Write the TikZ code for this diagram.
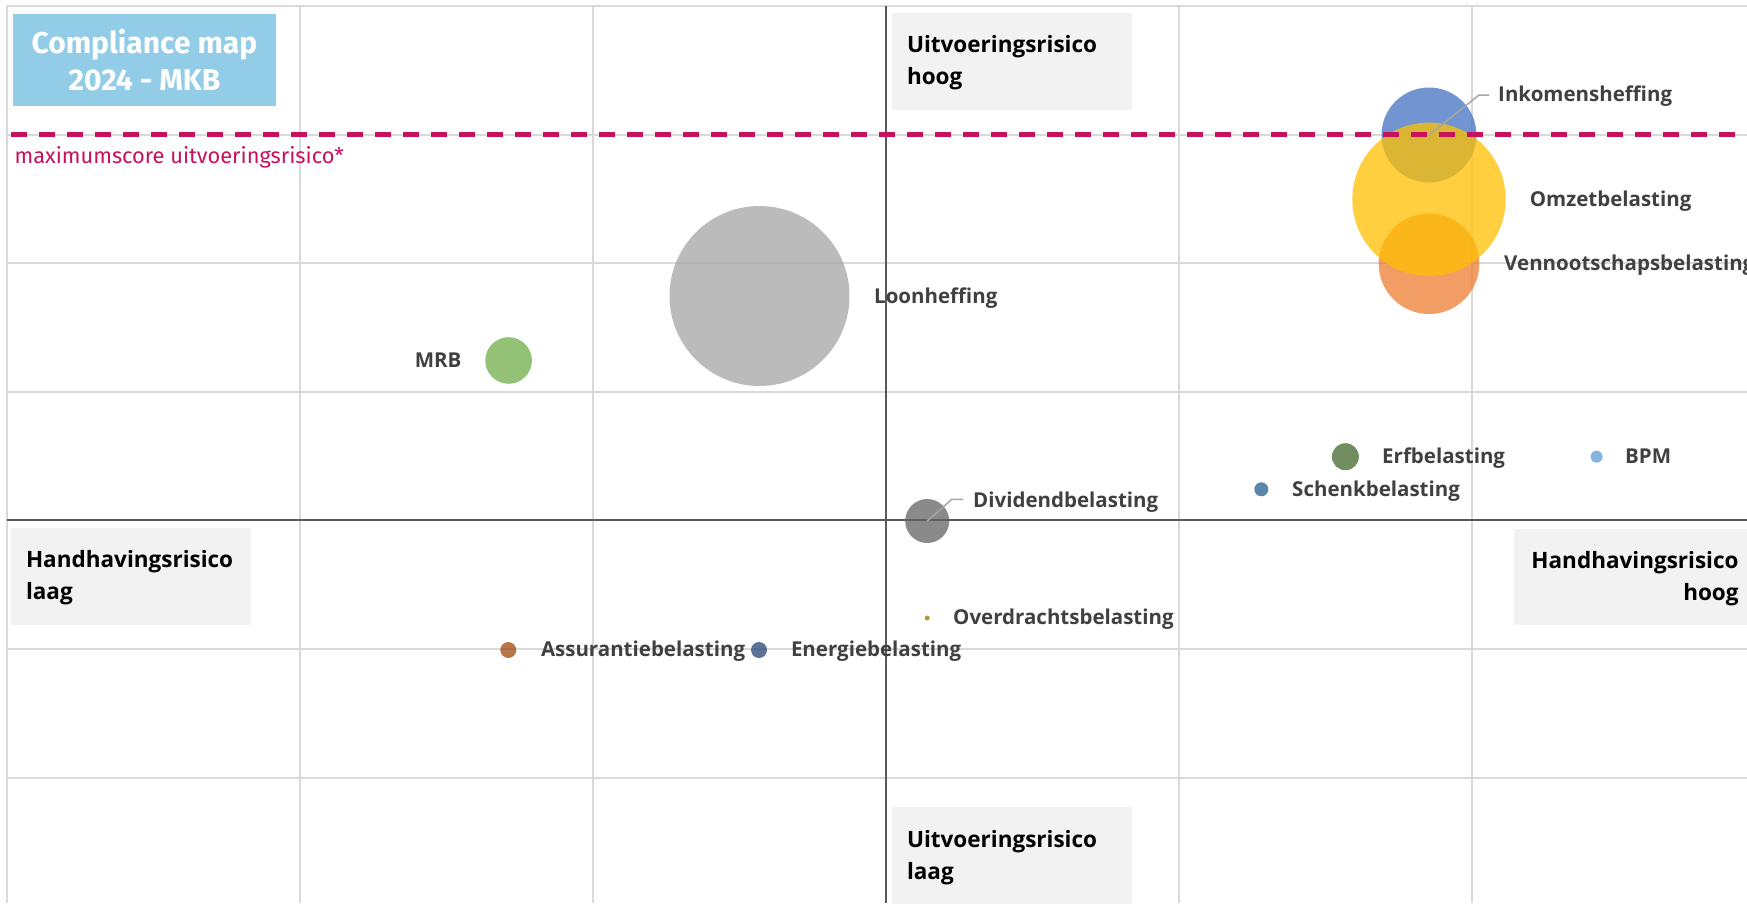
\documentclass[tikz,border=0pt]{standalone}
\usepackage{fontspec}
\setmainfont{Open Sans}
\newfontfamily\firafont{Fira Sans}
\definecolor{gridgray}{HTML}{D9D9D9}
\definecolor{axisgray}{HTML}{595959}
\definecolor{boxgray}{HTML}{F2F2F2}
\definecolor{titleblue}{HTML}{93CCE6}
\definecolor{maxred}{HTML}{C8105D}
\definecolor{lblgray}{HTML}{404040}
\definecolor{leadgray}{HTML}{A6A6A6}
\definecolor{cBlue}{HTML}{4472C4}
\definecolor{cOrange}{HTML}{ED7D31}
\definecolor{cGray}{HTML}{A5A5A5}
\definecolor{cYellow}{HTML}{FFC000}
\definecolor{cLBlue}{HTML}{5B9BD5}
\definecolor{cGreen}{HTML}{70AD47}
\definecolor{cDGray}{HTML}{636363}
\definecolor{cDGreen}{HTML}{43682B}
\definecolor{cDBlue}{HTML}{255E91}
\definecolor{cDYellow}{HTML}{997300}
\definecolor{cDOrange}{HTML}{9E480E}
\definecolor{cNavy}{HTML}{264478}
\begin{document}
\begin{tikzpicture}[x=1pt,y=-1pt,
  gridline/.style={draw=gridgray, line width=2pt},
  axisline/.style={draw=axisgray, line width=2pt},
  bubble/.style={circle, inner sep=0pt, draw=none, fill opacity=0.75},
  lbl/.style={anchor=west, inner sep=0pt, text=lblgray, text height=0.76em, text depth=0.24em,
    font=\fontsize{20.5}{24}\selectfont\bfseries},
  leader/.style={draw=leadgray, line width=1.5pt},
  quadbox/.style={fill=boxgray, inner ysep=0pt, inner xsep=15pt, minimum width=240pt, minimum height=94pt,
    text width=210pt, font=\fontsize{22.5}{32}\selectfont\bfseries, text=black},
  maxline/.style={draw=maxred, line width=5pt, dash pattern=on 16pt off 12pt}]
\clip (0,0) rectangle (1747,903);
\fill[white] (0,0) rectangle (1747,903);
% grid
\foreach \gx in {6.5,299.5,592.5,1178.5,1471.5}
  \draw[gridline] (\gx,6) -- (\gx,903);
\foreach \gy in {6,134.6,263.2,391.8,649,777.6}
  \draw[gridline] (6.5,\gy) -- (1747,\gy);
\draw[axisline] (885.5,6) -- (885.5,903);
\draw[axisline] (6.5,520.4) -- (1747,520.4);
% bubbles
\node[bubble, fill=cBlue, minimum size=95pt] (ink) at (1429,135) {};
\node[bubble, fill=cOrange, minimum size=100.6pt] (ven) at (1429,263.7) {};
\node[bubble, fill=cYellow, minimum size=153.4pt] (omz) at (1429,199.3) {};
\node[bubble, fill=cGray, minimum size=180pt] (loon) at (759.5,296) {};
\node[bubble, fill=cGreen, minimum size=46.6pt] (mrb) at (508.6,360.5) {};
\node[bubble, fill=cDGray, minimum size=44pt] (div) at (927.2,521) {};
\node[bubble, fill=cDGreen, minimum size=27pt] (erf) at (1345.4,456.7) {};
\node[bubble, fill=cDBlue, minimum size=14pt] (sch) at (1261.3,489.3) {};
\node[bubble, fill=cLBlue, minimum size=12pt] (bpm) at (1596.6,456.7) {};
\node[bubble, fill=cDYellow, minimum size=5pt] (ovb) at (927.2,618) {};
\node[bubble, fill=cDOrange, minimum size=16pt] (ass) at (508.3,650) {};
\node[bubble, fill=cNavy, minimum size=16pt] (ene) at (759,650) {};
% max line
\draw[maxline] (11,134.6) -- (1747,134.6);
\node[anchor=west, inner sep=0pt, text=maxred, font=\firafont\fontsize{21.8}{24}\selectfont] (maxl) at (14.5,157) {maximumscore uitvoeringsrisico*};
% labels
\node[lbl] (inkl) at (1498,99) {Inkomensheffing};
\node[lbl] (omzl) at (1529.6,204) {Omzetbelasting};
\node[lbl] (venl) at (1504,267.5) {Vennootschapsbelasting};
\node[lbl] (loonl) at (874,300.5) {Loonheffing};
\node[lbl, anchor=east] (mrbl) at (461.7,364.5) {MRB};
\node[lbl] (divl) at (973,504.5) {Dividendbelasting};
\node[lbl] (erfl) at (1382,460.5) {Erfbelasting};
\node[lbl] (bpml) at (1625,460.5) {BPM};
\node[lbl] (schl) at (1292,493.5) {Schenkbelasting};
\node[lbl] (ovbl) at (953,622) {Overdrachtsbelasting};
\node[lbl] (assl) at (540.8,654) {Assurantiebelasting};
\node[lbl] (enel) at (790.8,654) {Energiebelasting};
\draw[leader] (ink.center) -- (1479,95) -- (1489,95);
\draw[leader] (div.center) -- (951.8,499.3) -- (963,499.3);
% quadrant boxes
\node[quadbox, align=left] (uh) at (1012,62.7) {Uitvoeringsrisico\\hoog};
\node[quadbox, align=left] (ul) at (1012,857.3) {Uitvoeringsrisico\\laag};
\node[quadbox, align=left] (hl) at (131,577.5) {Handhavingsrisico\\laag};
\node[quadbox, align=right] (hh) at (1633.6,578.3) {Handhavingsrisico\\hoog};
\fill[boxgray] (892,12.7) rectangle (1132,20);
\fill[boxgray] (892,807.3) rectangle (1132,815);
\fill[boxgray] (10.8,528.3) rectangle (251.3,532);
\fill[boxgray] (1513.6,529.3) rectangle (1753.6,533);
% title
\node[fill=titleblue, minimum width=263pt, minimum height=91.7pt, inner sep=0pt, align=center,
  text=white, font=\firafont\fontsize{30}{37}\selectfont\bfseries] (title) at (144.5,59.9) {Compliance map\\2024 - MKB};
\end{tikzpicture}
\end{document}
